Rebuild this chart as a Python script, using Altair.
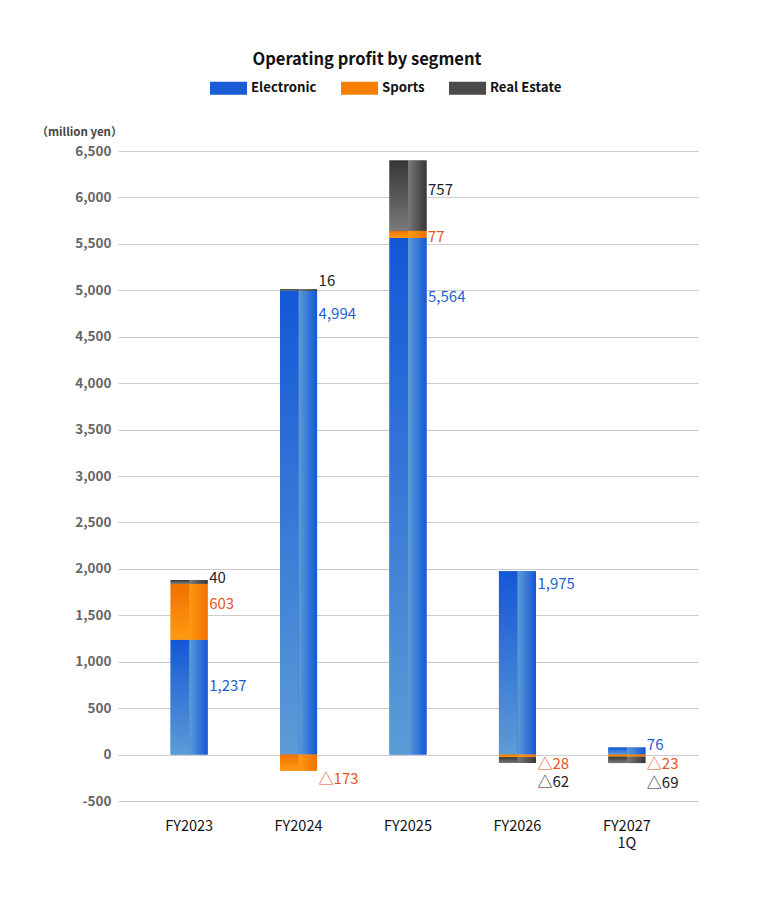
import altair as alt
import pandas as pd

categories = ["FY2023", "FY2024", "FY2025", "FY2026", "FY2027 1Q"]
segments = ["Electronic", "Sports", "Real Estate"]
electronic = [1237, 4994, 5564, 1975, 76]
sports = [603, -173, 77, -28, -23]
real_estate = [40, 16, 757, -62, -69]
# label anchors (data units)
label_at_electronic = [740, 4744, 4927, 1838, 102]
label_at_sports = [1622, -263, 5573, -105, -105]
label_at_real_estate = [1900, 5099, 6079, -290, -305]

y_ticks = list(range(-500, 7000, 500))

FONT = "Noto Sans CJK JP"
seg_colors = ["#1a5cd6", "#f57f00", "#4a4848"]
text_colors = ["#1f5fd4", "#e8541a", "#222222"]

# stacked bars (positive up, negative down)
rows = []
series = {"Electronic": electronic, "Sports": sports, "Real Estate": real_estate}
for i, c in enumerate(categories):
    pos, neg = 0, 0
    for s in segments:
        v = series[s][i]
        if v >= 0:
            y0, y1 = pos, pos + v
            pos = y1
        else:
            y0, y1 = neg, neg + v
            neg = y1
        rows.append({"cat": c, "segment": s, "value": v, "y0": y0, "y1": y1})
bars = pd.DataFrame(rows)

lab_rows = []
anchors = {"Electronic": label_at_electronic, "Sports": label_at_sports,
           "Real Estate": label_at_real_estate}
for j, s in enumerate(segments):
    for i, c in enumerate(categories):
        v = series[s][i]
        txt = f"△{abs(v):,}" if v < 0 else f"{v:,}"
        lab_rows.append({"cat": c, "segment": s, "at": anchors[s][i],
                         "text": txt, "tcolor": text_colors[j]})
labels = pd.DataFrame(lab_rows)

x_enc = alt.X("cat:N", sort=categories, title=None,
              scale=alt.Scale(paddingInner=0, paddingOuter=0.15),
              axis=alt.Axis(labelAngle=0, ticks=False, domain=False,
                            labelPadding=18, labelFontSize=14.5,
                            labelLineHeight=17,
                            labelColor="#111", labelFont=FONT,
                            labelExpr="datum.value == 'FY2027 1Q' ? ['FY2027', '1Q'] : datum.value"))
y_scale = alt.Scale(domain=[-500, 6500], nice=False)

base = alt.Chart(bars).mark_bar(width=37).encode(
    x=x_enc,
    y=alt.Y("y0:Q", scale=y_scale, title="（million yen）",
            axis=alt.Axis(values=y_ticks, grid=True, gridColor="#cccccc",
                          gridWidth=1.2, domain=False, ticks=False,
                          labelPadding=7, labelFontSize=13.5,
                          labelFontWeight="bold", labelColor="#666666",
                          labelFont=FONT,
                          labelExpr="replace(format(datum.value, ','), '−', '-')",
                          titleAngle=0, titleAlign="right", titleBaseline="bottom",
                          titleX=4, titleY=-14, titleFontSize=11.5,
                          titleFontWeight="bold", titleColor="#444444",
                          titleFont=FONT)),
    y2="y1:Q",
    color=alt.Color("segment:N", sort=segments,
                    scale=alt.Scale(domain=segments, range=seg_colors),
                    legend=alt.Legend(title=None, orient="none",
                                      legendX=92, legendY=-76,
                                      direction="horizontal",
                                      symbolType="M-1,-0.5H1.85V0.5H-1Z",
                                      symbolSize=676, symbolStrokeWidth=0,
                                      labelFontSize=13.2, labelFont=FONT,
                                      labelFontWeight="bold",
                                      labelColor="#111", columnPadding=24,
                                      labelOffset=15)),
)

grads = {
    "Electronic": ("#1457d6", "#5c9cd6"),
    "Sports": ("#f07000", "#ff9a10"),
    "Real Estate": ("#383636", "#7a7a7a"),
}

layers = [base]
for s in segments:
    dark, light = grads[s]
    left = alt.Gradient(gradient="linear", x1=0, y1=0, x2=0, y2=1,
                        stops=[alt.GradientStop(color=dark, offset=0),
                               alt.GradientStop(color=light, offset=1)])
    right = alt.Gradient(gradient="linear", x1=0, y1=0, x2=1, y2=0,
                         stops=[alt.GradientStop(color=light, offset=0),
                                alt.GradientStop(color=dark, offset=1)])
    src = alt.Chart(bars).transform_filter(alt.datum.segment == s)
    layers.append(src.mark_bar(width=18.5, xOffset=-9.25, fill=left).encode(
        x=alt.X("cat:N", sort=categories), y="y0:Q", y2="y1:Q"))
    layers.append(src.mark_bar(width=18.5, xOffset=9.25, fill=right).encode(
        x=alt.X("cat:N", sort=categories), y="y0:Q", y2="y1:Q"))

text = alt.Chart(labels).mark_text(align="left", baseline="middle", dx=20,
                                   fontSize=15, font=FONT).encode(
    x=alt.X("cat:N", sort=categories),
    y="at:Q",
    text="text:N",
    color=alt.Color("tcolor:N", scale=None),
)
layers.append(text)

chart = alt.layer(*layers).properties(
    width=580, height=650,
    title=alt.TitleParams("Operating profit by segment", fontSize=16.5,
                          font=FONT, fontWeight="bold", color="#111",
                          anchor="middle", frame="bounds", offset=7),
    padding={"left": 27, "top": 43, "right": 50, "bottom": 10},
).configure_view(stroke=None)

chart.save("out.html", embed_options={"renderer": "svg", "actions": False})
